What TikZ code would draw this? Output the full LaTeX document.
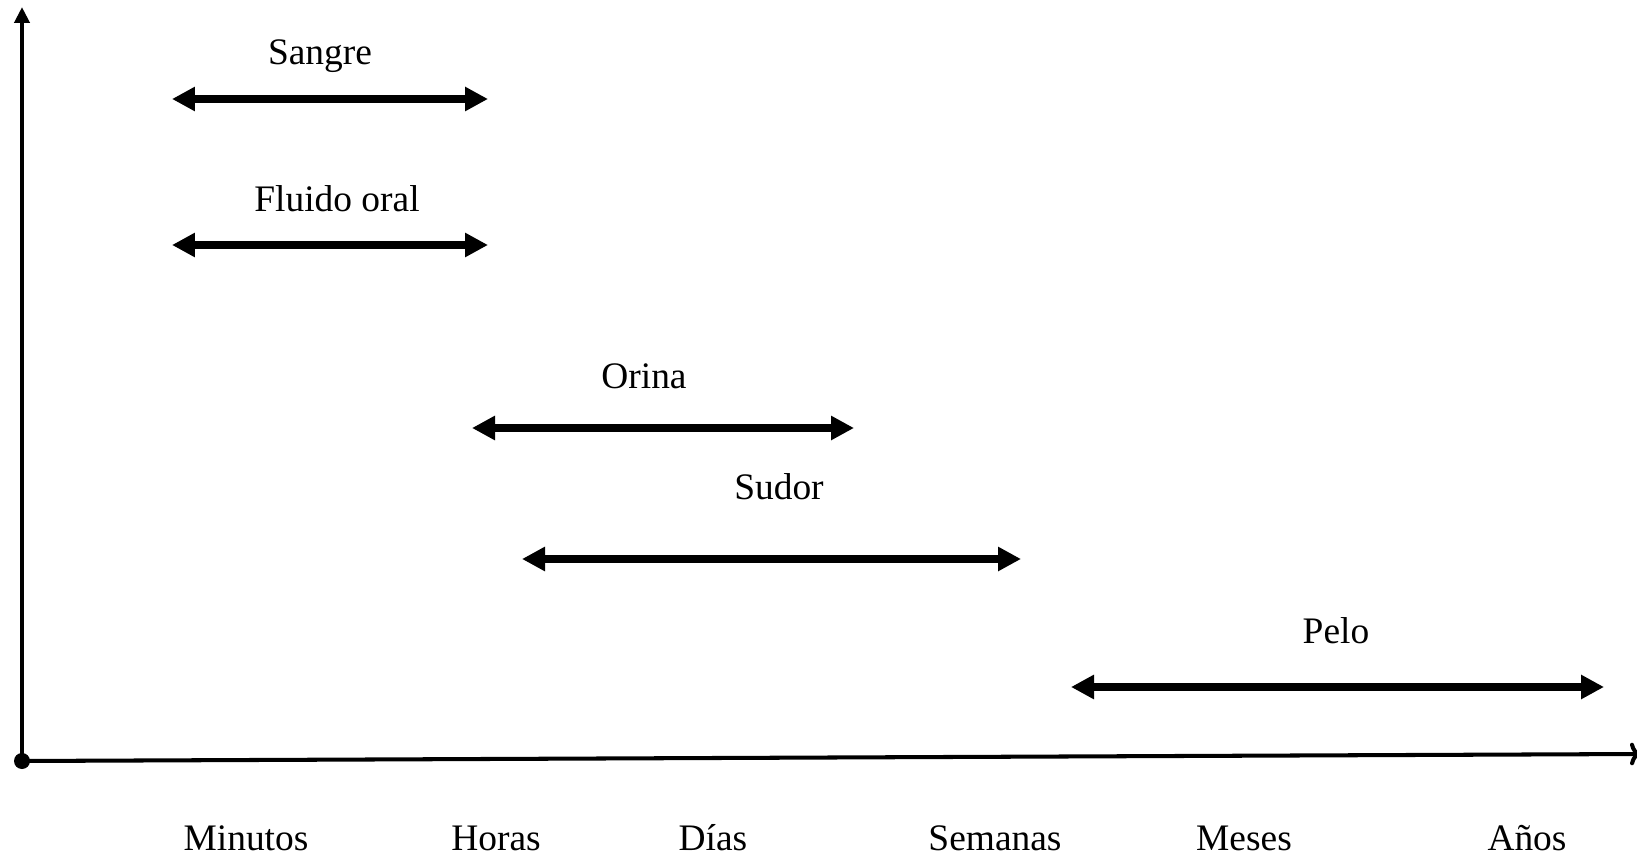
\documentclass[tikz,border=0pt]{standalone}
\usepackage{fontspec}
\setmainfont{Liberation Serif}
\usetikzlibrary{arrows.meta,positioning}

\begin{document}
\begin{tikzpicture}[x=0.02cm, y=-0.02cm]
\tikzset{
    myaxis/.style={line width=2.3pt},
    myarrow/.style={{Triangle[length=0.46cm,width=0.46cm]}-{Triangle[length=0.46cm,width=0.46cm]}, line width=4pt},
    mylabel/.style={font=\fontsize{21.3}{25}\selectfont, inner sep=0pt},
    mytick/.style={font=\fontsize{21.3}{25}\selectfont, inner sep=0pt}
}
\useasboundingbox (0,0) rectangle (1637,858);

% axes
\coordinate (origin) at (22,761);
\coordinate (ytop) at (22,7);
\coordinate (xend) at (1641,754);
\draw[myaxis, -{To[length=0.22cm,width=0.45cm]}] (origin) -- (xend);
\draw[myaxis, -{Triangle[length=0.32cm,width=0.30cm]}] (origin) -- (ytop);
\fill (origin) circle (0.16cm);

% time scale
\node[mytick] (minutos) at (246,838) {Minutos};
\node[mytick] (horas) at (496,838) {Horas};
\node[mytick] (dias) at (713,838) {Días};
\node[mytick] (semanas) at (995,838) {Semanas};
\node[mytick] (meses) at (1244,838) {Meses};
\node[mytick] (anos) at (1527,838) {Años};

% detection windows
\coordinate (sangre1) at (172,99);
\coordinate (sangre2) at (488,99);
\node[mylabel] (sangre) at (320,56) {Sangre};
\draw[myarrow] (sangre1) -- (sangre2);

\coordinate (fluido1) at (172,245);
\coordinate (fluido2) at (488,245);
\node[mylabel] (fluido) at (337,199) {Fluido oral};
\draw[myarrow] (fluido1) -- (fluido2);

\coordinate (orina1) at (472,428);
\coordinate (orina2) at (854,428);
\node[mylabel] (orina) at (644,376) {Orina};
\draw[myarrow] (orina1) -- (orina2);

\coordinate (sudor1) at (522,559);
\coordinate (sudor2) at (1021,559);
\node[mylabel] (sudor) at (779,487) {Sudor};
\draw[myarrow] (sudor1) -- (sudor2);

\coordinate (pelo1) at (1071,687);
\coordinate (pelo2) at (1604,687);
\node[mylabel] (pelo) at (1336,631) {Pelo};
\draw[myarrow] (pelo1) -- (pelo2);

\end{tikzpicture}
\end{document}
